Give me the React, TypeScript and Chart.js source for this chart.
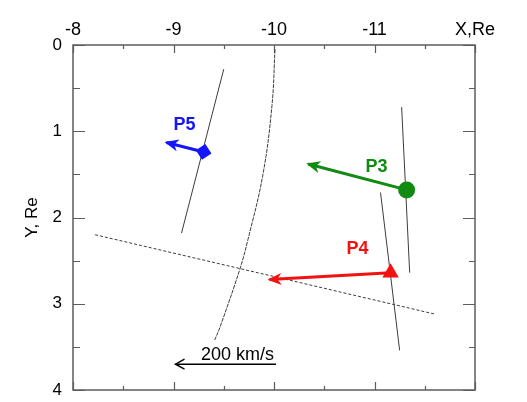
import React, { useEffect, useRef } from 'react';
import { Chart, registerables } from 'chart.js';

Chart.register(...registerables);

// Axis ranges, Earth radii
const xRange = [-12, -8];
const yRange = [0, 4];
const xTickValues = [-8, -9, -10, -11, -12];
const xTickLabels = ['-8', '-9', '-10', '-11', 'X,Re'];
const yTickValues = [0, 1, 2, 3, 4];
const yTickLabels = ['0', '1', '2', '3', '4'];

// Probe positions (Re) and flow velocities (km/s)
const probeNames = ['P5', 'P3', 'P4'];
const probeX = [-9.3, -11.32, -11.16];
const probeY = [1.24, 1.68, 2.64];
const flowVx = [74, 196, 241];
const flowVy = [-22, -60, 16];
const probeLabelX = [-9.11, -11.02, -10.83];
const probeLabelY = [0.93, 1.41, 2.36];

// Velocity scale arrow
const refSpeed = 200; // km/s
const kmsPerRe = 200; // arrow length: this many km/s per 1 Re
const refArrowX = -10.02;
const refArrowY = 3.7;

// Boundary traces
const curveX = [-10.01, -9.98, -9.89, -9.74, -9.66, -9.46, -9.41];
const curveY = [0.05, 0.7, 1.5, 2.26, 2.6, 3.28, 3.42];
const lineAX = [-9.5, -9.08];
const lineAY = [0.28, 2.18];
const lineCX = [-11.27, -11.35];
const lineCY = [0.72, 2.64];
const lineDX = [-11.06, -11.25];
const lineDY = [1.71, 3.54];
const lineEX = [-8.22, -11.6];
const lineEY = [2.2, 3.12];

const probeColors = ['#1414ff', '#118a11', '#f21212'];
const probeStyles = ['rectRot', 'circle', 'triangle'];
const probeRadii = [8, 8.5, 9.5];
const probeRotation = [12, 0, 0];

const FONT = 'Arial, "Liberation Sans", Helvetica, sans-serif';
const W = 527;
const H = 402;

const pts = (xs: number[], ys: number[]) => xs.map((x, i) => ({ x, y: ys[i] }));

const framePlugin = {
  id: 'frame',
  beforeDatasetsDraw(chart: any) {
    const { ctx, chartArea: a, scales } = chart;
    const xs = scales.x;
    const ys = scales.y;
    ctx.save();
    ctx.strokeStyle = '#5c5c5c';
    ctx.lineWidth = 1.5;
    ctx.beginPath();
    ctx.rect(a.left, a.top, a.right - a.left, a.bottom - a.top);
    ctx.stroke();
    ctx.lineWidth = 1.2;
    ctx.beginPath();
    for (let v = xRange[1]; v >= xRange[0] - 1e-9; v -= 0.5) {
      const px = Math.round(xs.getPixelForValue(v)) + 0.5;
      const major = Math.abs(v - Math.round(v)) < 1e-9;
      const len = major ? 8 : 4;
      ctx.moveTo(px, a.top);
      ctx.lineTo(px, a.top + len);
      ctx.moveTo(px, a.bottom);
      ctx.lineTo(px, a.bottom - len);
    }
    for (let v = yRange[0]; v <= yRange[1] + 1e-9; v += 0.5) {
      const py = Math.round(ys.getPixelForValue(v)) + 0.5;
      const major = Math.abs(v - Math.round(v)) < 1e-9;
      ctx.moveTo(a.left, py);
      ctx.lineTo(a.left + (major ? 12 : 7), py);
      ctx.moveTo(a.right, py);
      ctx.lineTo(a.right - (major ? 12 : 6), py);
    }
    ctx.stroke();
    ctx.restore();
  },
};

const arrowPlugin = {
  id: 'arrows',
  afterDatasetsDraw(chart: any) {
    const { ctx, scales } = chart;
    chart.data.datasets.forEach((ds: any, i: number) => {
      if (!ds.arrowHead) return;
      const meta = chart.getDatasetMeta(i);
      const p0 = meta.data[0];
      const p1 = meta.data[1];
      const ang = Math.atan2(p1.y - p0.y, p1.x - p0.x);
      ctx.save();
      ctx.translate(p1.x, p1.y);
      ctx.rotate(ang);
      ctx.fillStyle = ds.borderColor;
      ctx.strokeStyle = ds.borderColor;
      if (ds.arrowHead === 'filled') {
        ctx.beginPath();
        ctx.moveTo(2, 0);
        ctx.lineTo(-12, -6);
        ctx.lineTo(-8, 0);
        ctx.lineTo(-12, 6);
        ctx.closePath();
        ctx.fill();
      } else {
        ctx.lineWidth = 1.5;
        ctx.beginPath();
        ctx.moveTo(-9, -5);
        ctx.lineTo(0, 0);
        ctx.lineTo(-9, 5);
        ctx.stroke();
      }
      ctx.restore();
    });

    // probe names
    ctx.save();
    ctx.font = `bold 18px ${FONT}`;
    ctx.textAlign = 'center';
    ctx.textBaseline = 'middle';
    probeNames.forEach((name, i) => {
      ctx.fillStyle = probeColors[i];
      ctx.fillText(name, scales.x.getPixelForValue(probeLabelX[i]), scales.y.getPixelForValue(probeLabelY[i]));
    });
    // velocity scale label
    ctx.font = `18px ${FONT}`;
    ctx.fillStyle = '#000';
    ctx.textAlign = 'right';
    ctx.textBaseline = 'alphabetic';
    ctx.fillText(
      `${refSpeed} km/s`,
      scales.x.getPixelForValue(refArrowX) - 2,
      scales.y.getPixelForValue(refArrowY) - 4
    );
    ctx.restore();
  },
};

export default function App() {
  const canvasRef = useRef<HTMLCanvasElement | null>(null);

  useEffect(() => {
    if (!canvasRef.current) return;

    const traceStyle = (dash: number[]) => ({
      showLine: true,
      borderColor: '#3c3c3c',
      borderWidth: 1,
      borderDash: dash,
      pointRadius: 0,
      fill: false,
    });

    const probeSets = probeNames.map((name, i) => ({
      label: name,
      data: [
        { x: probeX[i], y: probeY[i] },
        { x: probeX[i] + flowVx[i] / kmsPerRe, y: probeY[i] + flowVy[i] / kmsPerRe },
      ],
      showLine: true,
      borderColor: probeColors[i],
      backgroundColor: probeColors[i],
      borderWidth: 3,
      pointRadius: [probeRadii[i], 0],
      pointStyle: probeStyles[i],
      pointRotation: probeRotation[i],
      pointBackgroundColor: probeColors[i],
      pointBorderColor: probeColors[i],
      pointBorderWidth: 0,
      arrowHead: 'filled',
    }));

    const refSet = {
      label: `${refSpeed} km/s`,
      data: [
        { x: refArrowX, y: refArrowY },
        { x: refArrowX + refSpeed / kmsPerRe, y: refArrowY },
      ],
      showLine: true,
      borderColor: '#000',
      borderWidth: 1.5,
      pointRadius: 0,
      arrowHead: 'open',
    };

    const chart = new Chart(canvasRef.current, {
      type: 'scatter',
      data: {
        datasets: [
          ...probeSets,
          refSet,
          { label: 'curve', data: pts(curveX, curveY), tension: 0.4, ...traceStyle([4, 1]) },
          { label: 'a', data: pts(lineAX, lineAY), ...traceStyle([]) },
          { label: 'c', data: pts(lineCX, lineCY), ...traceStyle([]) },
          { label: 'd', data: pts(lineDX, lineDY), ...traceStyle([]) },
          { label: 'e', data: pts(lineEX, lineEY), ...traceStyle([3, 2]) },
        ] as any,
      },
      options: {
        animation: false,
        responsive: false,
        events: [],
        layout: { padding: { left: 0, top: 0, right: 52, bottom: 12 } },
        plugins: { legend: { display: false }, tooltip: { enabled: false } },
        scales: {
          x: {
            type: 'linear',
            position: 'top',
            min: xRange[0],
            max: xRange[1],
            reverse: true,
            grid: { display: false, drawTicks: false },
            border: { display: false },
            afterBuildTicks: (s: any) => {
              s.ticks = xTickValues.map((value) => ({ value }));
            },
            afterFit: (s: any) => {
              s.height = 45;
            },
            ticks: {
              autoSkip: false,
              maxRotation: 0,
              padding: 4,
              color: '#000',
              font: { family: FONT, size: 18 },
              callback: (v: any) => xTickLabels[xTickValues.indexOf(Number(v))] ?? '',
            },
          },
          y: {
            type: 'linear',
            position: 'left',
            min: yRange[0],
            max: yRange[1],
            reverse: true,
            grid: { display: false, drawTicks: false },
            border: { display: false },
            afterBuildTicks: (s: any) => {
              s.ticks = yTickValues.map((value) => ({ value }));
            },
            afterFit: (s: any) => {
              s.width = 73;
              s.paddingTop = 0;
              s.paddingBottom = 0;
            },
            title: {
              display: true,
              text: 'Y, Re',
              color: '#000',
              font: { family: FONT, size: 17 },
              padding: { top: 22, bottom: 0 },
            },
            ticks: {
              autoSkip: false,
              padding: 11,
              color: '#000',
              font: { family: FONT, size: 17 },
              callback: (v: any) => yTickLabels[yTickValues.indexOf(Number(v))] ?? '',
            },
          },
        },
      } as any,
      plugins: [framePlugin, arrowPlugin],
    });

    return () => chart.destroy();
  }, []);

  return (
    <div style={{ position: 'absolute', left: 0, top: 0, width: W, height: H, background: '#fff' }}>
      <canvas ref={canvasRef} width={W} height={H} style={{ display: 'block', width: W, height: H }} />
    </div>
  );
}
